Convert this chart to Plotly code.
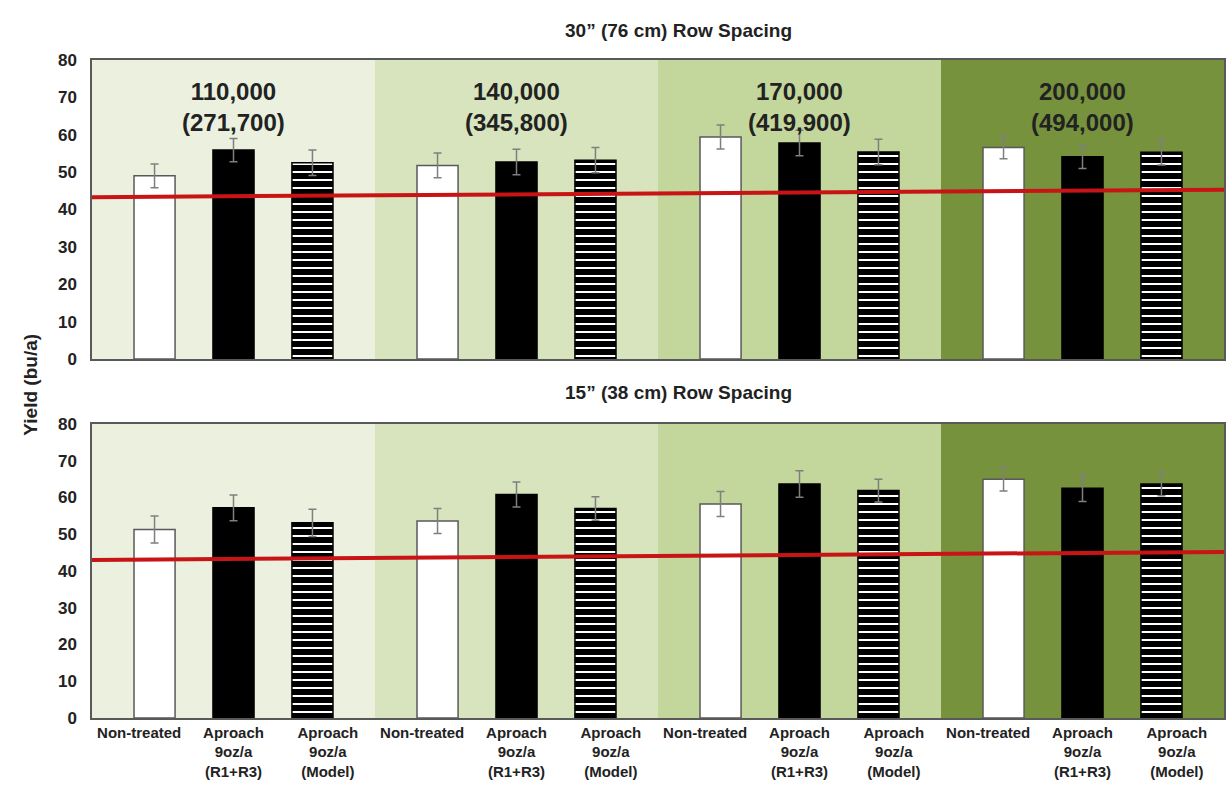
import plotly.graph_objects as go

# ---------------- data ----------------
populations = ["110,000", "140,000", "170,000", "200,000"]
populations_ha = ["(271,700)", "(345,800)", "(419,900)", "(494,000)"]
treatments = ["Non-treated", "Aproach<br>9oz/a<br>(R1+R3)", "Aproach<br>9oz/a<br>(Model)"]

yield_30_nt = [49.0, 51.8, 59.4, 56.6]
yield_30_r1r3 = [55.9, 52.7, 57.8, 54.1]
yield_30_model = [52.5, 53.2, 55.4, 55.3]
err_30_nt = [3.2, 3.3, 3.2, 3.0]
err_30_r1r3 = [3.1, 3.4, 3.4, 3.1]
err_30_model = [3.4, 3.4, 3.4, 3.4]

yield_15_nt = [51.3, 53.6, 58.2, 65.0]
yield_15_r1r3 = [57.2, 60.8, 63.7, 62.5]
yield_15_model = [53.1, 57.0, 61.9, 63.7]
err_15_nt = [3.7, 3.4, 3.4, 3.2]
err_15_r1r3 = [3.5, 3.4, 3.6, 3.6]
err_15_model = [3.7, 3.2, 3.1, 3.2]

# reference (red) line: value at left and right end of the chart
ref_line_30 = [43.3, 45.3]
ref_line_15 = [43.0, 45.2]

panel_titles = ["30\u201d (76 cm) Row Spacing", "15\u201d (38 cm) Row Spacing"]
y_ticks = [0, 10, 20, 30, 40, 50, 60, 70, 80]

# ---------------- styling ----------------
FONT = "Liberation Sans, Arial, sans-serif"
TXT = "#222222"
BORDER = "#595959"
bg_colors = ["#EBF1DE", "#D7E4BD", "#C3D69B", "#76923C"]
W, H = 1228, 788
ML, MR, MT, MB = 92, 2, 60, 70
plot_h = H - MT - MB
plot_w = W - ML - MR


def yfrac(px):
    return (H - MB - px) / plot_h


fig = go.Figure()
gx = list(range(len(populations)))

panels = [
    ("x", "y", [yield_30_nt, yield_30_r1r3, yield_30_model],
     [err_30_nt, err_30_r1r3, err_30_model], ref_line_30),
    ("x2", "y2", [yield_15_nt, yield_15_r1r3, yield_15_model],
     [err_15_nt, err_15_r1r3, err_15_model], ref_line_15),
]

styles = [
    dict(color="white", line=dict(color=BORDER, width=1.5)),
    dict(color="black", line=dict(color="black", width=1.5)),
    dict(color="white", line=dict(color="black", width=1.5),
         pattern=dict(shape="-", fgcolor="#000000", bgcolor="white", fgopacity=1,
                      size=8, solidity=0.75)),
]

for xa, ya, vals, errs, ref in panels:
    for k in range(3):
        fig.add_trace(go.Bar(
            x=gx, y=vals[k], xaxis=xa, yaxis=ya, name=treatments[k],
            marker=styles[k], showlegend=False,
            error_y=dict(type="data", array=errs[k], color="#7f7f7f", thickness=1.5, width=4),
        ))
    fig.add_trace(go.Scatter(
        x=[gx[0] - 0.5, gx[-1] + 0.5], y=ref, xaxis=xa, yaxis=ya, mode="lines",
        line=dict(color="#C81414", width=4), showlegend=False, hoverinfo="skip",
    ))

shapes = []
for xa, ya in [("x", "y"), ("x2", "y2")]:
    for g, c in zip(gx, bg_colors):
        shapes.append(dict(type="rect", xref=xa, yref=f"{ya} domain", x0=g - 0.5, x1=g + 0.5,
                           y0=0, y1=1, fillcolor=c, line=dict(width=0), layer="below"))

annotations = []
for g, (p, ph) in enumerate(zip(populations, populations_ha)):
    annotations.append(dict(x=g, y=67.4, xref="x", yref="y", showarrow=False,
                            text=f"<b>{p}</b><br><b>{ph}</b>",
                            font=dict(family=FONT, size=24, color=TXT)))

title_x = (680 - ML) / plot_w
annotations.append(dict(x=title_x, y=yfrac(18), xref="paper", yref="paper", showarrow=False,
                        text=f"<b>{panel_titles[0]}</b>", font=dict(family=FONT, size=19, color=TXT)))
annotations.append(dict(x=title_x, y=yfrac(393), xref="paper", yref="paper", showarrow=False,
                        text=f"<b>{panel_titles[1]}</b>", font=dict(family=FONT, size=19, color=TXT)))
annotations.append(dict(x=(17 - ML) / plot_w, y=yfrac(385), xref="paper", yref="paper",
                        showarrow=False, textangle=-90, text="<b>Yield (bu/a)</b>",
                        font=dict(family=FONT, size=19, color=TXT)))

# 12 category labels, evenly spread: one third of a group apart
tick_labels = [t for _ in populations for t in treatments]
tick_pos = [g + (k - 1) / 3 for g in gx for k in range(len(treatments))]

xcommon = dict(range=[-0.5, 3.5], showgrid=False, zeroline=False, showline=True, mirror=True,
               linecolor=BORDER, linewidth=1.5, ticks="")
ycommon = dict(range=[0, 80], tickvals=y_ticks, showgrid=False, zeroline=False, showline=True,
               mirror=True, linecolor=BORDER, linewidth=1.5, ticks="", ticklabelstandoff=10,
               tickfont=dict(family=FONT, size=17, color=TXT, weight="bold"))

fig.update_layout(
    width=W, height=H, margin=dict(l=ML, r=MR, t=MT, b=MB),
    paper_bgcolor="white", plot_bgcolor="white",
    barmode="group", bargap=0.163, bargroupgap=0.48,
    xaxis=dict(**xcommon, anchor="y", domain=[0, 1], showticklabels=False),
    yaxis=dict(**ycommon, anchor="x", domain=[yfrac(359), yfrac(60)]),
    xaxis2=dict(**xcommon, anchor="y2", domain=[0, 1], tickmode="array", tickvals=tick_pos,
                ticktext=[f"<b>{t}</b>" for t in tick_labels],
                tickfont=dict(family=FONT, size=15, color=TXT)),
    yaxis2=dict(**ycommon, anchor="x2", domain=[yfrac(718), yfrac(424)]),
    shapes=shapes, annotations=annotations,
)

fig.write_html("out.html")
